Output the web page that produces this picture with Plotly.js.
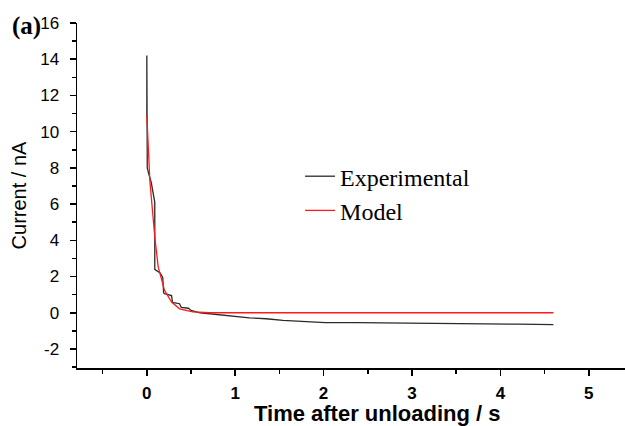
<!DOCTYPE html>
<html>
<head>
<meta charset="utf-8">
<script src="https://cdn.plot.ly/plotly-3.0.1.min.js"></script>
<style>html,body{margin:0;padding:0;background:#fff;}#chart{width:625px;height:426px;}</style>
</head>
<body>
<div id="chart"></div>
<script>
// Experimental current trace (s, nA)
const expTime = [0, 0, 0.005, 0.02, 0.05, 0.09, 0.09, 0.15, 0.18, 0.19, 0.2, 0.28, 0.29, 0.37, 0.39, 0.47, 0.5, 0.6, 0.79, 0.98, 1.16, 1.35, 1.54, 1.75, 2.02, 2.38, 2.82, 3.27, 3.49, 3.94, 4.2, 4.6];
const expCurrent = [10.8, 14.2, 8.0, 7.7, 7.2, 6.1, 2.4, 2.2, 1.95, 1.1, 1.05, 0.95, 0.57, 0.5, 0.3, 0.25, 0.13, 0.0, -0.1, -0.2, -0.28, -0.33, -0.42, -0.47, -0.54, -0.54, -0.57, -0.57, -0.61, -0.65, -0.63, -0.65];
// Model current (s, nA)
const modelTime = [0, 0.034, 0.09, 0.128, 0.2, 0.28, 0.37, 0.52, 0.71, 1.0, 4.6];
const modelCurrent = [10.9, 7.3, 4.2, 2.55, 1.24, 0.59, 0.22, 0.05, 0.0, 0.0, 0.0];
const seriesNames = ["Experimental", "Model"];
const xTickVals = [0, 1, 2, 3, 4, 5];
const xTickText = ["0", "1", "2", "3", "4", "5"];
const yTickVals = [-2, 0, 2, 4, 6, 8, 10, 12, 14, 16];
const yTickText = ["-2", "0", "2", "4", "6", "8", "10", "12", "14", "16"];
const xTitle = "Time after unloading / s";
const yTitle = "Current / nA";
const panelLabel = "(a)";

const traces = [
  {x: expTime, y: expCurrent, name: seriesNames[0], mode: "lines", line: {color: "#2a2a2a", width: 1.3}},
  {x: modelTime, y: modelCurrent, name: seriesNames[1], mode: "lines", line: {color: "#ff1a1a", width: 1.3}}
];

const layout = {
  width: 625, height: 426,
  margin: {l: 77, r: 0, t: 23, b: 58},
  paper_bgcolor: "#fff", plot_bgcolor: "#fff",
  font: {family: "Liberation Sans, Arial, sans-serif", color: "#000"},
  showlegend: true,
  legend: {
    x: 0.407, y: 0.62, xanchor: "left", yanchor: "top",
    font: {family: "Liberation Serif, Times New Roman, serif", size: 24, color: "#000"},
    bgcolor: "rgba(0,0,0,0)", tracegroupgap: 0
  },
  xaxis: {
    range: [-0.79, 5.41], showgrid: false, zeroline: false,
    showline: true, linecolor: "#000", linewidth: 1.5,
    tickmode: "array", tickvals: xTickVals, ticktext: xTickText,
    ticks: "outside", ticklen: 6, tickwidth: 1.5, tickcolor: "#000",
    minor: {dtick: 0.5, ticks: "outside", ticklen: 4, tickwidth: 1.5, tickcolor: "#000"},
    tickfont: {size: 17, family: "Liberation Sans, Arial, sans-serif", weight: "bold"},
    ticklabelstandoff: 3
  },
  yaxis: {
    range: [-3.05, 16], showgrid: false, zeroline: false,
    showline: true, linecolor: "#000", linewidth: 1.5,
    tickmode: "array", tickvals: yTickVals, ticktext: yTickText,
    ticks: "outside", ticklen: 6, tickwidth: 1.5, tickcolor: "#000",
    minor: {dtick: 1, ticks: "outside", ticklen: 4, tickwidth: 1.5, tickcolor: "#000"},
    tickfont: {size: 17},
    ticklabelstandoff: 7,
    title: {text: yTitle, font: {size: 20}, standoff: 8}
  },
  annotations: [
    {text: xTitle, xref: "paper", yref: "paper", x: 0.549, y: -0.133, xanchor: "center", yanchor: "middle",
     showarrow: false, font: {size: 22, weight: "bold"}},
    {text: panelLabel, xref: "paper", yref: "paper", x: -0.123, y: 0.991, xanchor: "left", yanchor: "middle",
     showarrow: false, font: {family: "Liberation Serif, Times New Roman, serif", size: 25, weight: "bold"}}
  ]
};

Plotly.newPlot("chart", traces, layout, {displayModeBar: false, staticPlot: true});
</script>
</body>
</html>
